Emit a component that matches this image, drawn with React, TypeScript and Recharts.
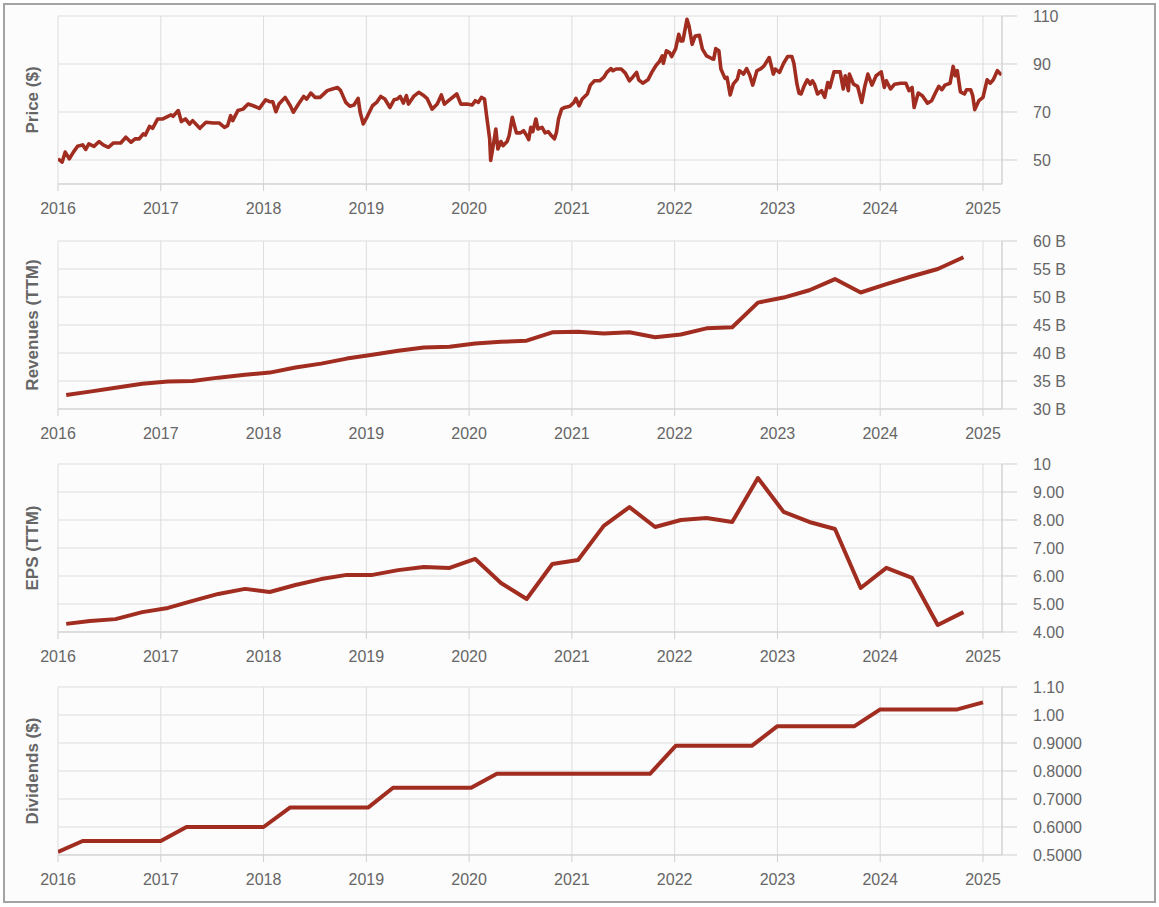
import React from 'react';
import { LineChart, Line, XAxis, YAxis, CartesianGrid } from 'recharts';

const yearTicks = [2016, 2017, 2018, 2019, 2020, 2021, 2022, 2023, 2024, 2025];
const xMax = 2025.185;

const priceDates = [
  2016.00, 2016.04, 2016.07, 2016.11, 2016.15, 2016.19, 2016.24, 2016.27, 2016.30, 2016.35,
  2016.40, 2016.44, 2016.49, 2016.54, 2016.61, 2016.66, 2016.71, 2016.75, 2016.79, 2016.83,
  2016.85, 2016.89, 2016.92, 2016.97, 2017.02, 2017.07, 2017.10, 2017.12, 2017.17, 2017.20,
  2017.24, 2017.28, 2017.31, 2017.38, 2017.44, 2017.51, 2017.57, 2017.62, 2017.65, 2017.68,
  2017.70, 2017.75, 2017.80, 2017.85, 2017.90, 2017.96, 2018.02, 2018.06, 2018.09, 2018.12,
  2018.15, 2018.21, 2018.26,
  2018.29, 2018.34, 2018.39, 2018.42, 2018.46, 2018.50, 2018.55, 2018.62, 2018.67, 2018.72,
  2018.75, 2018.80, 2018.84, 2018.88, 2018.92, 2018.94, 2018.97, 2019.01, 2019.06, 2019.10,
  2019.14, 2019.18, 2019.23, 2019.27, 2019.30, 2019.33, 2019.36, 2019.39, 2019.41, 2019.46,
  2019.51, 2019.55, 2019.59, 2019.64, 2019.69, 2019.73, 2019.76, 2019.80, 2019.88, 2019.92,
  2019.98, 2020.03, 2020.06, 2020.09, 2020.12, 2020.15, 2020.17, 2020.20, 2020.21, 2020.24,
  2020.26, 2020.28, 2020.31, 2020.33, 2020.37, 2020.39, 2020.42, 2020.46, 2020.50, 2020.53,
  2020.56,
  2020.58, 2020.60, 2020.62, 2020.65, 2020.67, 2020.71, 2020.74, 2020.77, 2020.80, 2020.83,
  2020.85, 2020.87, 2020.90, 2020.93, 2020.98, 2021.02, 2021.04, 2021.07, 2021.10, 2021.15,
  2021.18, 2021.22, 2021.27, 2021.31, 2021.34, 2021.38, 2021.40, 2021.43, 2021.48, 2021.52,
  2021.56, 2021.59, 2021.63, 2021.65, 2021.69, 2021.74, 2021.78, 2021.82, 2021.85, 2021.88,
  2021.89, 2021.92, 2021.95, 2021.97, 2022.01, 2022.04, 2022.06, 2022.08, 2022.12, 2022.14,
  2022.17, 2022.20, 2022.24, 2022.27, 2022.31, 2022.36, 2022.38, 2022.40, 2022.43, 2022.45,
  2022.49, 2022.51, 2022.54, 2022.57, 2022.61, 2022.63, 2022.67, 2022.70, 2022.73, 2022.76,
  2022.80,
  2022.84, 2022.87, 2022.92, 2022.96, 2022.98, 2023.02, 2023.06, 2023.10, 2023.14, 2023.16,
  2023.19, 2023.21, 2023.23, 2023.26, 2023.29, 2023.32, 2023.34, 2023.36, 2023.39, 2023.43,
  2023.46, 2023.49, 2023.51, 2023.55, 2023.61, 2023.64, 2023.66, 2023.69, 2023.70, 2023.74,
  2023.78, 2023.82, 2023.85, 2023.88, 2023.92, 2023.96, 2024.01, 2024.04, 2024.06, 2024.10,
  2024.14, 2024.20, 2024.25, 2024.28, 2024.31, 2024.33, 2024.37, 2024.41, 2024.46, 2024.50,
  2024.54, 2024.57, 2024.60, 2024.63, 2024.68, 2024.71, 2024.73, 2024.75, 2024.78, 2024.82,
  2024.84, 2024.88, 2024.90, 2024.92, 2024.96, 2025.00, 2025.04, 2025.07, 2025.10, 2025.14,
  2025.18,
];

const priceValues = [
  50.5, 49.1, 53.3, 50.5, 53.3, 55.7, 56.3, 54.4, 56.7, 55.7,
  57.7, 56.3, 55.3, 57.1, 57.1, 59.5, 57.4, 58.8, 58.8, 60.9,
  60.4, 64.0, 63.2, 67.1, 67.1, 68.2, 68.8, 68.2, 70.6, 66.0,
  67.1, 65.0, 66.4, 63.2, 65.7, 65.4, 65.4, 63.6, 64.3, 68.5,
  66.4, 70.6, 71.2, 73.3, 72.6, 71.5, 75.1, 74.3, 74.3, 70.1,
  73.3, 76.1, 72.6,
  69.9, 73.3, 76.5, 75.4, 77.9, 76.1, 76.1, 78.9, 79.6, 80.2,
  78.9, 74.0, 72.4, 72.9, 75.7, 69.9, 65.0, 68.2, 72.6, 74.0,
  76.5, 75.4, 71.9, 75.1, 75.4, 76.5, 73.7, 76.8, 73.3, 76.5,
  78.2, 77.1, 75.7, 71.2, 73.3, 77.1, 73.3, 74.7, 77.5, 73.3,
  73.3, 72.9, 74.7, 74.0, 76.1, 75.4, 68.5, 58.8, 49.8, 57.4,
  62.9, 54.6, 57.7, 56.0, 57.7, 60.2, 67.8, 61.3, 61.3, 62.2,
  60.2,
  58.5, 63.6, 61.8, 67.1, 62.9, 63.6, 61.3, 61.8, 60.2, 58.8,
  61.6, 67.1, 71.2, 71.9, 72.4, 74.0, 75.7, 72.6, 75.4, 77.5,
  81.2, 83.0, 83.0, 84.4, 86.5, 88.1, 87.2, 87.9, 87.9, 86.2,
  83.0, 84.4, 86.5, 83.4, 82.0, 83.4, 86.7, 89.5, 90.9, 93.4,
  90.3, 95.5, 94.8, 93.1, 96.4, 102.4, 99.6, 99.6, 108.6, 105.8,
  98.2, 101.7, 102.0, 96.2, 93.4, 92.3, 92.0, 96.4, 95.5, 87.9,
  84.0, 84.4, 77.1, 81.6, 83.7, 87.2, 85.8, 88.1, 85.4, 81.2,
  87.2,
  88.1, 89.2, 92.7, 85.8, 87.9, 86.5, 90.3, 93.1, 93.1, 90.3,
  81.6, 77.9, 77.5, 80.9, 83.4, 81.6, 83.0, 81.6, 77.5, 78.9,
  76.1, 82.3, 80.2, 86.7, 86.7, 79.6, 85.1, 78.9, 85.8, 81.6,
  80.7, 74.0, 80.7, 85.8, 81.2, 85.1, 86.7, 80.2, 83.0, 79.6,
  81.6, 82.0, 82.0, 78.9, 80.2, 71.9, 77.9, 76.8, 73.7, 74.7,
  78.2, 80.7, 79.3, 81.2, 82.0, 89.0, 85.1, 87.2, 78.4, 77.5,
  79.3, 79.3, 76.8, 71.0, 74.7, 76.1, 83.4, 82.0, 83.4, 87.2,
  85.4,
];

const quarterDates = [
  2016.08, 2016.31, 2016.56, 2016.82, 2017.07, 2017.31, 2017.56, 2017.82,
  2018.06, 2018.31, 2018.56, 2018.81, 2019.06, 2019.31, 2019.56, 2019.81,
  2020.06, 2020.31, 2020.56, 2020.81, 2021.06, 2021.31, 2021.56, 2021.81,
  2022.06, 2022.31, 2022.56, 2022.81, 2023.06, 2023.31, 2023.56, 2023.81,
  2024.06, 2024.31, 2024.56, 2024.81,
];

const revenueValues = [
  32.5, 33.1, 33.8, 34.5, 34.9, 35.0, 35.6, 36.1, 36.5, 37.4,
  38.1, 39.0, 39.7, 40.4, 41.0, 41.1, 41.7, 42.0, 42.2, 43.7,
  43.8, 43.5, 43.7, 42.8, 43.3, 44.4, 44.6, 49.0, 49.9, 51.2,
  53.2, 50.8, 52.3, 53.7, 55.0, 57.1,
];

const epsValues = [
  4.29, 4.39, 4.46, 4.71, 4.86, 5.11, 5.36, 5.54, 5.43, 5.68,
  5.89, 6.04, 6.04, 6.21, 6.32, 6.29, 6.61, 5.75, 5.18, 6.43,
  6.57, 7.79, 8.46, 7.75, 8.00, 8.07, 7.93, 9.50, 8.29, 7.93,
  7.68, 5.57, 6.29, 5.93, 4.25, 4.71,
];

const dividendDates = [
  2016.0, 2016.24, 2017.0, 2017.25, 2018.0, 2018.26, 2019.02, 2019.26, 2020.02,
  2020.27, 2021.76, 2022.01, 2022.75, 2023.0, 2023.75, 2024.0, 2024.75, 2025.0,
];
const dividendValues = [
  0.511, 0.55, 0.55, 0.60, 0.60, 0.67, 0.67, 0.74, 0.74,
  0.79, 0.79, 0.89, 0.89, 0.96, 0.96, 1.02, 1.02, 1.045,
];

const priceTicks = [50, 70, 90, 110];
const priceTickLabels = ['50', '70', '90', '110'];
const revenueTicks = [30, 35, 40, 45, 50, 55, 60];
const revenueTickLabels = ['30 B', '35 B', '40 B', '45 B', '50 B', '55 B', '60 B'];
const epsTicks = [4, 5, 6, 7, 8, 9, 10];
const epsTickLabels = ['4.00', '5.00', '6.00', '7.00', '8.00', '9.00', '10'];
const dividendTicks = [0.5, 0.6, 0.7, 0.8, 0.9, 1.0, 1.1];
const dividendTickLabels = ['0.5000', '0.6000', '0.7000', '0.8000', '0.9000', '1.00', '1.10'];

const priceData = priceDates.map((d, i) => ({ t: d, v: priceValues[i] }));
const revenueData = quarterDates.map((d, i) => ({ t: d, v: revenueValues[i] }));
const epsData = quarterDates.map((d, i) => ({ t: d, v: epsValues[i] }));
const dividendData = dividendDates.map((d, i) => ({ t: d, v: dividendValues[i] }));

const FONT = '"Liberation Sans", Arial, Helvetica, sans-serif';
const LINE_COLOR = '#a02d20';
const GRID = '#dddddd';
const AXIS = '#cfcfcf';
const TEXT = '#666666';

type PanelProps = {
  top: number;
  data: { t: number; v: number }[];
  label: string;
  domain: [number, number];
  ticks: number[];
  tickLabels: string[];
  strokeWidth: number;
};

function Panel({ top, data, label, domain, ticks, tickLabels, strokeWidth }: PanelProps) {
  const fmt = (v: number) => {
    const i = ticks.findIndex((t) => Math.abs(t - v) < 1e-6);
    return i >= 0 ? tickLabels[i] : '';
  };
  return (
    <div style={{ position: 'absolute', left: 0, top }}>
      <LineChart width={1149} height={218} data={data} margin={{ top: 10, right: 0, bottom: 0, left: 0 }}>
        <CartesianGrid yAxisId="main" stroke={GRID} strokeWidth={1} />
        <XAxis
          dataKey="t"
          type="number"
          domain={[2016, xMax]}
          ticks={yearTicks}
          allowDataOverflow
          height={40}
          tickSize={7}
          tickMargin={12}
          stroke={AXIS}
          tick={{ fill: TEXT, fontSize: 16, fontFamily: FONT }}
          tickFormatter={(v: number) => String(Math.round(v))}
        />
        <YAxis
          yAxisId="lbl"
          orientation="left"
          width={53}
          type="number"
          domain={[0, 1]}
          ticks={[]}
          tick={false}
          axisLine={false}
          tickLine={false}
          label={{
            value: label,
            angle: -90,
            position: 'center',
            fill: TEXT,
            fontSize: 17,
            fontWeight: 'bold',
            fontFamily: FONT,
          }}
        />
        <YAxis
          yAxisId="main"
          orientation="right"
          width={152}
          type="number"
          domain={domain}
          ticks={ticks}
          interval={0}
          allowDataOverflow
          tickSize={15}
          tickMargin={16}
          stroke={AXIS}
          tick={{ fill: TEXT, fontSize: 16, fontFamily: FONT }}
          tickFormatter={fmt}
        />
        <Line
          yAxisId="main"
          type="linear"
          dataKey="v"
          stroke={LINE_COLOR}
          strokeWidth={strokeWidth}
          dot={false}
          activeDot={false}
          isAnimationActive={false}
          strokeLinejoin="round"
        />
      </LineChart>
    </div>
  );
}

export default function App() {
  return (
    <div
      style={{
        position: 'absolute',
        left: 3,
        top: 3,
        width: 1149,
        height: 896,
        border: '2px solid #a3a3a3',
        background: '#fcfcfc',
        fontFamily: FONT,
      }}
    >
      <Panel top={1} data={priceData} label="Price ($)" domain={[40, 110]} ticks={priceTicks} tickLabels={priceTickLabels} strokeWidth={3.6} />
      <Panel top={226} data={revenueData} label="Revenues (TTM)" domain={[30, 60]} ticks={revenueTicks} tickLabels={revenueTickLabels} strokeWidth={4} />
      <Panel top={449} data={epsData} label="EPS (TTM)" domain={[4, 10]} ticks={epsTicks} tickLabels={epsTickLabels} strokeWidth={4} />
      <Panel top={672} data={dividendData} label="Dividends ($)" domain={[0.5, 1.1]} ticks={dividendTicks} tickLabels={dividendTickLabels} strokeWidth={4} />
    </div>
  );
}
